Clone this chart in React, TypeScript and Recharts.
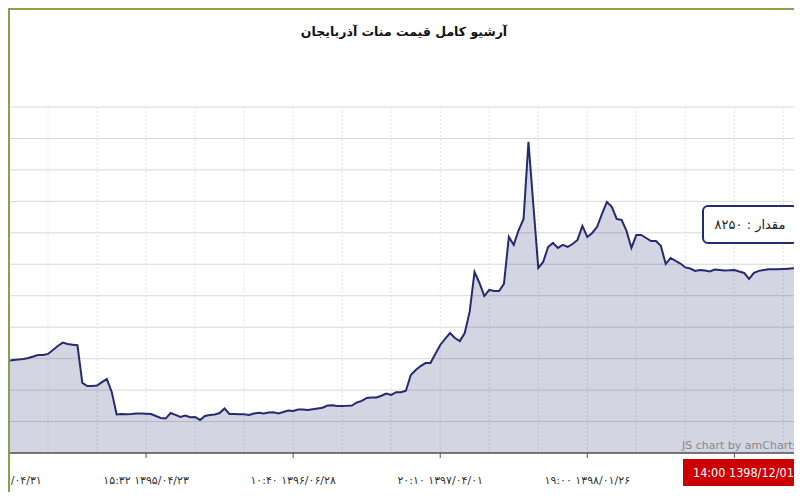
import React from 'react';
import { AreaChart, Area, XAxis, YAxis, CartesianGrid } from 'recharts';

// price samples, one per record, oldest first
const prices = [
  5180, 5180, 5185, 5210, 5225, 5240, 5270, 5320, 5365, 5365,
  5400, 5525, 5650, 5760, 5715, 5695, 5675, 4480, 4380, 4380,
  4395, 4505, 4600, 4190, 3475, 3490, 3480, 3490, 3505, 3505,
  3500, 3490, 3425, 3365, 3345, 3520, 3460, 3395, 3440, 3385,
  3395, 3300, 3425, 3460, 3475, 3520, 3665, 3490, 3490, 3480,
  3480, 3460, 3505, 3530, 3510, 3540, 3545, 3510, 3555, 3600,
  3585, 3635, 3635, 3615, 3640, 3665, 3690, 3760, 3765, 3745,
  3745, 3750, 3760, 3855, 3905, 4000, 4015, 4015, 4070, 4140,
  4095, 4185, 4180, 4230, 4730, 4890, 5015, 5110, 5110, 5400,
  5685, 5875, 6065, 5905, 5810, 6065, 6735, 8005, 7655, 7240,
  7435, 7400, 7400, 7625, 9120, 8865, 9340, 9690, 12140, 10135,
  8135, 8325, 8800, 8930, 8770, 8865, 8800, 8895, 9025, 9470,
  9120, 9245, 9440, 9850, 10230, 10075, 9690, 9660, 9310, 8770,
  9180, 9180, 9085, 8990, 8990, 8835, 8260, 8450, 8355, 8275,
  8150, 8115, 8040, 8070, 8050, 8020, 8085, 8070, 8055, 8060,
  8070, 8020, 7975, 7785, 7975, 8040, 8070, 8095, 8090, 8090,
  8100, 8110, 8120, 8150, 8250,
];

// the label of the last tick sits under the cursor balloon, so it stays empty
const labelIndexes = [0, 30, 60, 90, 120, 150];
const labelTexts = [
  '۱۲:۰۰ ۱۳۹۴/۰۴/۳۱',
  '۱۵:۳۲ ۱۳۹۵/۰۴/۲۳',
  '۱۰:۴۰ ۱۳۹۶/۰۶/۲۸',
  '۲۰:۱۰ ۱۳۹۷/۰۴/۰۱',
  '۱۹:۰۰ ۱۳۹۸/۰۱/۲۶',
  '',
];
const gridIndexes = [0, 10, 20, 30, 40, 50, 60, 70, 80, 90, 100, 110, 120, 130, 140, 150, 160];
const valueTicks = [2250, 3250, 4250, 5250, 6250, 7250, 8250, 9250, 10250, 11250, 12250, 13250];

const title = 'آرشیو کامل قیمت منات آذربایجان';
const lastValue = '۸۲۵۰';
const lastDate = '14:00 1398/12/01';

const FONT = '"DejaVu Sans", sans-serif';
const NAVY = '#242b6e';

const data = prices.map((v, i) => ({ i, v }));

function DateTick(props: any) {
  const { x, y, payload } = props;
  const k = labelIndexes.indexOf(payload.value);
  if (k < 0) return <g />;
  return (
    <g>
      <line x1={x} x2={x} y1={y - 7} y2={y - 2} stroke="#555" strokeWidth={1} />
      {labelTexts[k] && (
        <text x={x} y={y + 24} textAnchor="middle" fontSize={11} fill="#333" fontFamily={FONT}>
          {labelTexts[k]}
        </text>
      )}
    </g>
  );
}

export default function App() {
  return (
    <div
      style={{
        position: 'relative',
        width: 794,
        height: 492,
        marginBottom: -8,
        boxSizing: 'border-box',
        borderLeft: '2px solid #86a24a',
        borderTop: '2px solid #86a24a',
        overflow: 'hidden',
        background: '#fff',
        fontFamily: FONT,
      }}
    >
      <div style={{ marginLeft: -11 }}>
        <AreaChart width={804} height={490} data={data} margin={{ top: 97, right: 0, left: 0, bottom: 17 }}>
          <CartesianGrid vertical={false} stroke="#d8d8d8" />
          <CartesianGrid horizontal={false} stroke="#e2e2e2" strokeDasharray="2 2" />
          <XAxis
            dataKey="i"
            type="number"
            domain={[0, 164]}
            ticks={gridIndexes}
            interval={0}
            height={30}
            tickSize={5}
            tickMargin={2}
            tickLine={false}
            axisLine={{ stroke: '#555', strokeWidth: 1.5 }}
            tick={<DateTick />}
          />
          <YAxis hide domain={[2250, 13250]} ticks={valueTicks} />
          <Area
            type="linear"
            dataKey="v"
            stroke={NAVY}
            strokeWidth={2}
            fill={NAVY}
            fillOpacity={0.2}
            dot={false}
            activeDot={false}
            isAnimationActive={false}
          />
        </AreaChart>
      </div>

      <div
        style={{
          position: 'absolute',
          left: 0,
          top: 12,
          width: 788,
          textAlign: 'center',
          fontSize: 12.5,
          fontWeight: 'bold',
          lineHeight: '20px',
          color: '#111',
          direction: 'rtl',
        }}
      >
        {title}
      </div>

      <div
        style={{
          position: 'absolute',
          left: 692,
          top: 195,
          width: 96,
          height: 39,
          boxSizing: 'border-box',
          border: `2px solid ${NAVY}`,
          borderRadius: 6,
          background: '#fff',
          display: 'flex',
          alignItems: 'center',
          justifyContent: 'center',
          fontSize: 13,
          color: '#222',
          direction: 'rtl',
        }}
      >
        {'مقدار : ' + lastValue}
      </div>

      <div
        style={{
          position: 'absolute',
          left: 672,
          top: 430,
          fontSize: 11,
          lineHeight: '12px',
          color: '#888',
          whiteSpace: 'nowrap',
        }}
      >
        JS chart by amCharts
      </div>

      <div
        style={{
          position: 'absolute',
          left: 673,
          top: 449,
          width: 140,
          height: 27,
          background: '#cc0000',
          color: '#fff',
          fontFamily: '"DejaVu Sans Condensed", "DejaVu Sans", sans-serif',
          fontSize: 12.5,
          lineHeight: '27px',
          paddingLeft: 10,
          whiteSpace: 'nowrap',
        }}
      >
        {lastDate}
      </div>
    </div>
  );
}
